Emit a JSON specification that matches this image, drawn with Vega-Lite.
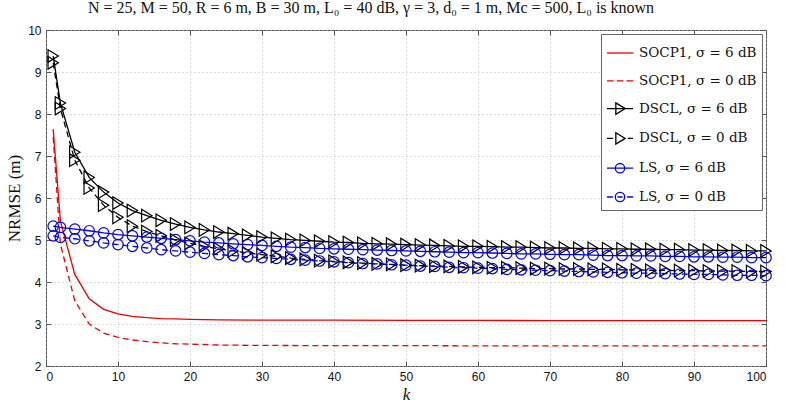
{
"$schema": "https://vega.github.io/schema/vega-lite/v6.json",
"width": 720, "height": 336,
"autosize": {"type": "none"},
"padding": {"left": 46, "top": 30, "right": 19, "bottom": 38},
"background": "white",
"title": {"text": "N = 25, M = 50, R = 6 m, B = 30 m, L₀ = 40 dB, γ = 3, d₀ = 1 m, Mc = 500, L₀ is known", "font": "Liberation Serif", "fontSize": 16, "fontWeight": "normal", "color": "#111", "anchor": "middle", "dx": -35, "offset": 8},
"data": {"values": [
{"k":1,"s":"SOCP1, σ = 6 dB","v":7.64},{"k":2,"s":"SOCP1, σ = 6 dB","v":5.45},{"k":4,"s":"SOCP1, σ = 6 dB","v":4.18},{"k":6,"s":"SOCP1, σ = 6 dB","v":3.6},{"k":8,"s":"SOCP1, σ = 6 dB","v":3.35},{"k":10,"s":"SOCP1, σ = 6 dB","v":3.24},{"k":12,"s":"SOCP1, σ = 6 dB","v":3.18},{"k":14,"s":"SOCP1, σ = 6 dB","v":3.15},{"k":16,"s":"SOCP1, σ = 6 dB","v":3.13},{"k":18,"s":"SOCP1, σ = 6 dB","v":3.12},{"k":20,"s":"SOCP1, σ = 6 dB","v":3.11},{"k":24,"s":"SOCP1, σ = 6 dB","v":3.1},{"k":30,"s":"SOCP1, σ = 6 dB","v":3.09},{"k":40,"s":"SOCP1, σ = 6 dB","v":3.09},{"k":50,"s":"SOCP1, σ = 6 dB","v":3.085},{"k":60,"s":"SOCP1, σ = 6 dB","v":3.085},{"k":70,"s":"SOCP1, σ = 6 dB","v":3.08},{"k":80,"s":"SOCP1, σ = 6 dB","v":3.08},{"k":90,"s":"SOCP1, σ = 6 dB","v":3.08},{"k":100,"s":"SOCP1, σ = 6 dB","v":3.08},
{"k":1,"s":"SOCP1, σ = 0 dB","v":7.45},{"k":2,"s":"SOCP1, σ = 0 dB","v":4.9},{"k":4,"s":"SOCP1, σ = 0 dB","v":3.55},{"k":6,"s":"SOCP1, σ = 0 dB","v":3.0},{"k":8,"s":"SOCP1, σ = 0 dB","v":2.78},{"k":10,"s":"SOCP1, σ = 0 dB","v":2.68},{"k":12,"s":"SOCP1, σ = 0 dB","v":2.62},{"k":14,"s":"SOCP1, σ = 0 dB","v":2.58},{"k":16,"s":"SOCP1, σ = 0 dB","v":2.55},{"k":18,"s":"SOCP1, σ = 0 dB","v":2.53},{"k":20,"s":"SOCP1, σ = 0 dB","v":2.52},{"k":24,"s":"SOCP1, σ = 0 dB","v":2.5},{"k":30,"s":"SOCP1, σ = 0 dB","v":2.49},{"k":40,"s":"SOCP1, σ = 0 dB","v":2.485},{"k":50,"s":"SOCP1, σ = 0 dB","v":2.485},{"k":60,"s":"SOCP1, σ = 0 dB","v":2.48},{"k":70,"s":"SOCP1, σ = 0 dB","v":2.48},{"k":80,"s":"SOCP1, σ = 0 dB","v":2.48},{"k":90,"s":"SOCP1, σ = 0 dB","v":2.48},{"k":100,"s":"SOCP1, σ = 0 dB","v":2.48},
{"k":1,"s":"DSCL, σ = 6 dB","v":9.38},{"k":2,"s":"DSCL, σ = 6 dB","v":8.26},{"k":4,"s":"DSCL, σ = 6 dB","v":7.09},{"k":6,"s":"DSCL, σ = 6 dB","v":6.49},{"k":8,"s":"DSCL, σ = 6 dB","v":6.14},{"k":10,"s":"DSCL, σ = 6 dB","v":5.88},{"k":12,"s":"DSCL, σ = 6 dB","v":5.7},{"k":14,"s":"DSCL, σ = 6 dB","v":5.58},{"k":16,"s":"DSCL, σ = 6 dB","v":5.47},{"k":18,"s":"DSCL, σ = 6 dB","v":5.38},{"k":20,"s":"DSCL, σ = 6 dB","v":5.3},{"k":22,"s":"DSCL, σ = 6 dB","v":5.24},{"k":24,"s":"DSCL, σ = 6 dB","v":5.19},{"k":26,"s":"DSCL, σ = 6 dB","v":5.15},{"k":28,"s":"DSCL, σ = 6 dB","v":5.11},{"k":30,"s":"DSCL, σ = 6 dB","v":5.07},{"k":32,"s":"DSCL, σ = 6 dB","v":5.04},{"k":34,"s":"DSCL, σ = 6 dB","v":5.01},{"k":36,"s":"DSCL, σ = 6 dB","v":4.99},{"k":38,"s":"DSCL, σ = 6 dB","v":4.97},{"k":40,"s":"DSCL, σ = 6 dB","v":4.95},{"k":42,"s":"DSCL, σ = 6 dB","v":4.94},{"k":44,"s":"DSCL, σ = 6 dB","v":4.92},{"k":46,"s":"DSCL, σ = 6 dB","v":4.91},{"k":48,"s":"DSCL, σ = 6 dB","v":4.9},{"k":50,"s":"DSCL, σ = 6 dB","v":4.89},{"k":52,"s":"DSCL, σ = 6 dB","v":4.88},{"k":54,"s":"DSCL, σ = 6 dB","v":4.87},{"k":56,"s":"DSCL, σ = 6 dB","v":4.86},{"k":58,"s":"DSCL, σ = 6 dB","v":4.85},{"k":60,"s":"DSCL, σ = 6 dB","v":4.85},{"k":62,"s":"DSCL, σ = 6 dB","v":4.84},{"k":64,"s":"DSCL, σ = 6 dB","v":4.83},{"k":66,"s":"DSCL, σ = 6 dB","v":4.83},{"k":68,"s":"DSCL, σ = 6 dB","v":4.82},{"k":70,"s":"DSCL, σ = 6 dB","v":4.81},{"k":72,"s":"DSCL, σ = 6 dB","v":4.81},{"k":74,"s":"DSCL, σ = 6 dB","v":4.8},{"k":76,"s":"DSCL, σ = 6 dB","v":4.8},{"k":78,"s":"DSCL, σ = 6 dB","v":4.79},{"k":80,"s":"DSCL, σ = 6 dB","v":4.79},{"k":82,"s":"DSCL, σ = 6 dB","v":4.78},{"k":84,"s":"DSCL, σ = 6 dB","v":4.78},{"k":86,"s":"DSCL, σ = 6 dB","v":4.77},{"k":88,"s":"DSCL, σ = 6 dB","v":4.77},{"k":90,"s":"DSCL, σ = 6 dB","v":4.76},{"k":92,"s":"DSCL, σ = 6 dB","v":4.76},{"k":94,"s":"DSCL, σ = 6 dB","v":4.75},{"k":96,"s":"DSCL, σ = 6 dB","v":4.75},{"k":98,"s":"DSCL, σ = 6 dB","v":4.74},{"k":100,"s":"DSCL, σ = 6 dB","v":4.74},
{"k":1,"s":"DSCL, σ = 0 dB","v":9.22},{"k":2,"s":"DSCL, σ = 0 dB","v":8.13},{"k":4,"s":"DSCL, σ = 0 dB","v":6.9},{"k":6,"s":"DSCL, σ = 0 dB","v":6.24},{"k":8,"s":"DSCL, σ = 0 dB","v":5.83},{"k":10,"s":"DSCL, σ = 0 dB","v":5.54},{"k":12,"s":"DSCL, σ = 0 dB","v":5.33},{"k":14,"s":"DSCL, σ = 0 dB","v":5.2},{"k":16,"s":"DSCL, σ = 0 dB","v":5.1},{"k":18,"s":"DSCL, σ = 0 dB","v":5.0},{"k":20,"s":"DSCL, σ = 0 dB","v":4.92},{"k":22,"s":"DSCL, σ = 0 dB","v":4.85},{"k":24,"s":"DSCL, σ = 0 dB","v":4.79},{"k":26,"s":"DSCL, σ = 0 dB","v":4.74},{"k":28,"s":"DSCL, σ = 0 dB","v":4.69},{"k":30,"s":"DSCL, σ = 0 dB","v":4.65},{"k":32,"s":"DSCL, σ = 0 dB","v":4.61},{"k":34,"s":"DSCL, σ = 0 dB","v":4.57},{"k":36,"s":"DSCL, σ = 0 dB","v":4.54},{"k":38,"s":"DSCL, σ = 0 dB","v":4.51},{"k":40,"s":"DSCL, σ = 0 dB","v":4.49},{"k":42,"s":"DSCL, σ = 0 dB","v":4.47},{"k":44,"s":"DSCL, σ = 0 dB","v":4.45},{"k":46,"s":"DSCL, σ = 0 dB","v":4.43},{"k":48,"s":"DSCL, σ = 0 dB","v":4.42},{"k":50,"s":"DSCL, σ = 0 dB","v":4.4},{"k":52,"s":"DSCL, σ = 0 dB","v":4.39},{"k":54,"s":"DSCL, σ = 0 dB","v":4.38},{"k":56,"s":"DSCL, σ = 0 dB","v":4.37},{"k":58,"s":"DSCL, σ = 0 dB","v":4.36},{"k":60,"s":"DSCL, σ = 0 dB","v":4.35},{"k":62,"s":"DSCL, σ = 0 dB","v":4.34},{"k":64,"s":"DSCL, σ = 0 dB","v":4.34},{"k":66,"s":"DSCL, σ = 0 dB","v":4.33},{"k":68,"s":"DSCL, σ = 0 dB","v":4.32},{"k":70,"s":"DSCL, σ = 0 dB","v":4.32},{"k":72,"s":"DSCL, σ = 0 dB","v":4.31},{"k":74,"s":"DSCL, σ = 0 dB","v":4.31},{"k":76,"s":"DSCL, σ = 0 dB","v":4.3},{"k":78,"s":"DSCL, σ = 0 dB","v":4.3},{"k":80,"s":"DSCL, σ = 0 dB","v":4.29},{"k":82,"s":"DSCL, σ = 0 dB","v":4.29},{"k":84,"s":"DSCL, σ = 0 dB","v":4.28},{"k":86,"s":"DSCL, σ = 0 dB","v":4.28},{"k":88,"s":"DSCL, σ = 0 dB","v":4.27},{"k":90,"s":"DSCL, σ = 0 dB","v":4.27},{"k":92,"s":"DSCL, σ = 0 dB","v":4.26},{"k":94,"s":"DSCL, σ = 0 dB","v":4.26},{"k":96,"s":"DSCL, σ = 0 dB","v":4.26},{"k":98,"s":"DSCL, σ = 0 dB","v":4.25},{"k":100,"s":"DSCL, σ = 0 dB","v":4.25},
{"k":1,"s":"LS, σ = 6 dB","v":5.33},{"k":2,"s":"LS, σ = 6 dB","v":5.3},{"k":4,"s":"LS, σ = 6 dB","v":5.26},{"k":6,"s":"LS, σ = 6 dB","v":5.22},{"k":8,"s":"LS, σ = 6 dB","v":5.17},{"k":10,"s":"LS, σ = 6 dB","v":5.13},{"k":12,"s":"LS, σ = 6 dB","v":5.1},{"k":14,"s":"LS, σ = 6 dB","v":5.07},{"k":16,"s":"LS, σ = 6 dB","v":5.04},{"k":18,"s":"LS, σ = 6 dB","v":5.01},{"k":20,"s":"LS, σ = 6 dB","v":4.98},{"k":22,"s":"LS, σ = 6 dB","v":4.95},{"k":24,"s":"LS, σ = 6 dB","v":4.93},{"k":26,"s":"LS, σ = 6 dB","v":4.91},{"k":28,"s":"LS, σ = 6 dB","v":4.89},{"k":30,"s":"LS, σ = 6 dB","v":4.87},{"k":32,"s":"LS, σ = 6 dB","v":4.85},{"k":34,"s":"LS, σ = 6 dB","v":4.83},{"k":36,"s":"LS, σ = 6 dB","v":4.82},{"k":38,"s":"LS, σ = 6 dB","v":4.8},{"k":40,"s":"LS, σ = 6 dB","v":4.79},{"k":42,"s":"LS, σ = 6 dB","v":4.78},{"k":44,"s":"LS, σ = 6 dB","v":4.77},{"k":46,"s":"LS, σ = 6 dB","v":4.76},{"k":48,"s":"LS, σ = 6 dB","v":4.75},{"k":50,"s":"LS, σ = 6 dB","v":4.74},{"k":52,"s":"LS, σ = 6 dB","v":4.73},{"k":54,"s":"LS, σ = 6 dB","v":4.72},{"k":56,"s":"LS, σ = 6 dB","v":4.71},{"k":58,"s":"LS, σ = 6 dB","v":4.7},{"k":60,"s":"LS, σ = 6 dB","v":4.7},{"k":62,"s":"LS, σ = 6 dB","v":4.69},{"k":64,"s":"LS, σ = 6 dB","v":4.68},{"k":66,"s":"LS, σ = 6 dB","v":4.67},{"k":68,"s":"LS, σ = 6 dB","v":4.67},{"k":70,"s":"LS, σ = 6 dB","v":4.66},{"k":72,"s":"LS, σ = 6 dB","v":4.65},{"k":74,"s":"LS, σ = 6 dB","v":4.65},{"k":76,"s":"LS, σ = 6 dB","v":4.64},{"k":78,"s":"LS, σ = 6 dB","v":4.63},{"k":80,"s":"LS, σ = 6 dB","v":4.63},{"k":82,"s":"LS, σ = 6 dB","v":4.62},{"k":84,"s":"LS, σ = 6 dB","v":4.62},{"k":86,"s":"LS, σ = 6 dB","v":4.61},{"k":88,"s":"LS, σ = 6 dB","v":4.61},{"k":90,"s":"LS, σ = 6 dB","v":4.6},{"k":92,"s":"LS, σ = 6 dB","v":4.6},{"k":94,"s":"LS, σ = 6 dB","v":4.59},{"k":96,"s":"LS, σ = 6 dB","v":4.59},{"k":98,"s":"LS, σ = 6 dB","v":4.58},{"k":100,"s":"LS, σ = 6 dB","v":4.58},
{"k":1,"s":"LS, σ = 0 dB","v":5.1},{"k":2,"s":"LS, σ = 0 dB","v":5.06},{"k":4,"s":"LS, σ = 0 dB","v":5.03},{"k":6,"s":"LS, σ = 0 dB","v":4.98},{"k":8,"s":"LS, σ = 0 dB","v":4.93},{"k":10,"s":"LS, σ = 0 dB","v":4.89},{"k":12,"s":"LS, σ = 0 dB","v":4.85},{"k":14,"s":"LS, σ = 0 dB","v":4.81},{"k":16,"s":"LS, σ = 0 dB","v":4.77},{"k":18,"s":"LS, σ = 0 dB","v":4.74},{"k":20,"s":"LS, σ = 0 dB","v":4.71},{"k":22,"s":"LS, σ = 0 dB","v":4.68},{"k":24,"s":"LS, σ = 0 dB","v":4.65},{"k":26,"s":"LS, σ = 0 dB","v":4.63},{"k":28,"s":"LS, σ = 0 dB","v":4.6},{"k":30,"s":"LS, σ = 0 dB","v":4.58},{"k":32,"s":"LS, σ = 0 dB","v":4.56},{"k":34,"s":"LS, σ = 0 dB","v":4.54},{"k":36,"s":"LS, σ = 0 dB","v":4.52},{"k":38,"s":"LS, σ = 0 dB","v":4.5},{"k":40,"s":"LS, σ = 0 dB","v":4.48},{"k":42,"s":"LS, σ = 0 dB","v":4.46},{"k":44,"s":"LS, σ = 0 dB","v":4.44},{"k":46,"s":"LS, σ = 0 dB","v":4.43},{"k":48,"s":"LS, σ = 0 dB","v":4.41},{"k":50,"s":"LS, σ = 0 dB","v":4.4},{"k":52,"s":"LS, σ = 0 dB","v":4.38},{"k":54,"s":"LS, σ = 0 dB","v":4.37},{"k":56,"s":"LS, σ = 0 dB","v":4.35},{"k":58,"s":"LS, σ = 0 dB","v":4.34},{"k":60,"s":"LS, σ = 0 dB","v":4.33},{"k":62,"s":"LS, σ = 0 dB","v":4.32},{"k":64,"s":"LS, σ = 0 dB","v":4.3},{"k":66,"s":"LS, σ = 0 dB","v":4.29},{"k":68,"s":"LS, σ = 0 dB","v":4.28},{"k":70,"s":"LS, σ = 0 dB","v":4.27},{"k":72,"s":"LS, σ = 0 dB","v":4.26},{"k":74,"s":"LS, σ = 0 dB","v":4.25},{"k":76,"s":"LS, σ = 0 dB","v":4.24},{"k":78,"s":"LS, σ = 0 dB","v":4.23},{"k":80,"s":"LS, σ = 0 dB","v":4.22},{"k":82,"s":"LS, σ = 0 dB","v":4.21},{"k":84,"s":"LS, σ = 0 dB","v":4.21},{"k":86,"s":"LS, σ = 0 dB","v":4.2},{"k":88,"s":"LS, σ = 0 dB","v":4.19},{"k":90,"s":"LS, σ = 0 dB","v":4.18},{"k":92,"s":"LS, σ = 0 dB","v":4.18},{"k":94,"s":"LS, σ = 0 dB","v":4.17},{"k":96,"s":"LS, σ = 0 dB","v":4.16},{"k":98,"s":"LS, σ = 0 dB","v":4.16},{"k":100,"s":"LS, σ = 0 dB","v":4.15}
]},
"layer": [
 {"layer": [
  {"transform": [{"filter": "indexof(datum.s,'6 dB') >= 0"}],
   "mark": {"type": "line", "strokeWidth": 1.3},
   "encoding": {
    "x": {"field": "k", "type": "quantitative", "scale": {"domain": [0, 100], "nice": false}, "axis": {"title": "k", "titleFontStyle": "italic", "titleFontSize": 17, "titlePadding": 4, "values": [0,10,20,30,40,50,60,70,80,90,100]}},
    "y": {"field": "v", "type": "quantitative", "scale": {"domain": [2, 10], "nice": false}, "axis": {"title": "NRMSE (m)", "titleFontSize": 17, "titlePadding": 4, "values": [2,3,4,5,6,7,8,9,10]}},
    "stroke": {"field": "s", "type": "nominal", "scale": {"domain": ["LS, σ = 0 dB","LS, σ = 6 dB","DSCL, σ = 0 dB","DSCL, σ = 6 dB","SOCP1, σ = 0 dB","SOCP1, σ = 6 dB"], "range": ["#0000ee","#0000ee","#000000","#000000","#ee0000","#ee0000"]}, "legend": null}
   }},
  {"transform": [{"filter": "indexof(datum.s,'0 dB') >= 0"}],
   "mark": {"type": "line", "strokeWidth": 1.3, "strokeDash": [6, 4]},
   "encoding": {
    "x": {"field": "k", "type": "quantitative"},
    "y": {"field": "v", "type": "quantitative"},
    "stroke": {"field": "s", "type": "nominal", "scale": {"domain": ["LS, σ = 0 dB","LS, σ = 6 dB","DSCL, σ = 0 dB","DSCL, σ = 6 dB","SOCP1, σ = 0 dB","SOCP1, σ = 6 dB"], "range": ["#0000ee","#0000ee","#000000","#000000","#ee0000","#ee0000"]}, "legend": null}
   }},
  {"transform": [{"filter": "indexof(datum.s,'DSCL') == 0"}],
   "mark": {"type": "point", "shape": "M-0.82,-1L0.82,0L-0.82,1Z", "size": 160, "filled": false, "strokeWidth": 1.2, "opacity": 1},
   "encoding": {
    "x": {"field": "k", "type": "quantitative"},
    "y": {"field": "v", "type": "quantitative"},
    "stroke": {"field": "s", "type": "nominal", "scale": {"domain": ["LS, σ = 0 dB","LS, σ = 6 dB","DSCL, σ = 0 dB","DSCL, σ = 6 dB","SOCP1, σ = 0 dB","SOCP1, σ = 6 dB"], "range": ["#0000ee","#0000ee","#000000","#000000","#ee0000","#ee0000"]}, "legend": null}
   }},
  {"transform": [{"filter": "indexof(datum.s,'LS') == 0"}],
   "mark": {"type": "point", "shape": "circle", "size": 110, "filled": false, "strokeWidth": 1.2, "opacity": 1},
   "encoding": {
    "x": {"field": "k", "type": "quantitative"},
    "y": {"field": "v", "type": "quantitative"},
    "stroke": {"field": "s", "type": "nominal", "scale": {"domain": ["LS, σ = 0 dB","LS, σ = 6 dB","DSCL, σ = 0 dB","DSCL, σ = 6 dB","SOCP1, σ = 0 dB","SOCP1, σ = 6 dB"], "range": ["#0000ee","#0000ee","#000000","#000000","#ee0000","#ee0000"]}, "legend": null}
   }},
  {"mark": {"type": "point", "opacity": 0, "filled": false},
   "encoding": {
    "x": {"field": "k", "type": "quantitative"},
    "y": {"field": "v", "type": "quantitative"},
    "color": {"field": "s", "type": "nominal", "title": null, "scale": {"domain": ["SOCP1, σ = 6 dB","SOCP1, σ = 0 dB","DSCL, σ = 6 dB","DSCL, σ = 0 dB","LS, σ = 6 dB","LS, σ = 0 dB"], "range": ["#ee0000","#ee0000","#000000","#000000","#0000ee","#0000ee"]}},
    "shape": {"field": "s", "type": "nominal", "title": null, "scale": {"domain": ["SOCP1, σ = 6 dB","SOCP1, σ = 0 dB","DSCL, σ = 6 dB","DSCL, σ = 0 dB","LS, σ = 6 dB","LS, σ = 0 dB"], "range": ["M-1,0H1","M-1,0H-0.5M-0.25,0H0.25M0.5,0H1","M-1,0H1M-0.32,-0.44L0.4,0L-0.32,0.44Z","M-1,0H-0.55M0.6,0H1M-0.32,-0.44L0.4,0L-0.32,0.44Z","M-1,0H1M0.36,0A0.36,0.36 0 1,1 -0.36,0A0.36,0.36 0 1,1 0.36,0Z","M-1,0H-0.55M-0.2,0H0.2M0.55,0H1M0.36,0A0.36,0.36 0 1,1 -0.36,0A0.36,0.36 0 1,1 0.36,0Z"]}}
   }}
 ]},
 {"mark": {"type": "point", "opacity": 0},
  "encoding": {
   "x": {"field": "k", "type": "quantitative", "scale": {"domain": [0, 100], "nice": false}, "axis": {"orient": "top", "title": null, "labels": false, "grid": false, "values": [0,10,20,30,40,50,60,70,80,90,100]}},
   "y": {"field": "v", "type": "quantitative", "scale": {"domain": [2, 10], "nice": false}, "axis": {"orient": "right", "title": null, "labels": false, "grid": false, "values": [2,3,4,5,6,7,8,9,10]}}
  }}
],
"resolve": {"scale": {"x": "independent", "y": "independent"}},
"config": {
 "view": {"stroke": "#555555", "strokeWidth": 1},
 "axis": {"grid": true, "gridColor": "#b8b8b8", "gridDash": [1, 3], "gridWidth": 1, "domain": false, "tickColor": "#555555", "tickSize": -5, "tickWidth": 1, "labelPadding": 10, "labelFont": "Liberation Sans", "labelFontSize": 12, "labelColor": "#111111", "titleFont": "Liberation Serif", "titleFontWeight": "normal", "titleFontSize": 15, "titleColor": "#111111"},
 "legend": {"orient": "top-right", "offset": 4, "fillColor": "white", "strokeColor": "#666666", "padding": 5, "symbolSize": 676, "symbolStrokeWidth": 1.3, "symbolOpacity": 1, "symbolFillColor": "transparent", "labelFont": "DejaVu Serif", "labelFontSize": 13.5, "labelColor": "#111111", "labelOffset": 5, "rowPadding": 6.8, "labelLimit": 300}
}
}
